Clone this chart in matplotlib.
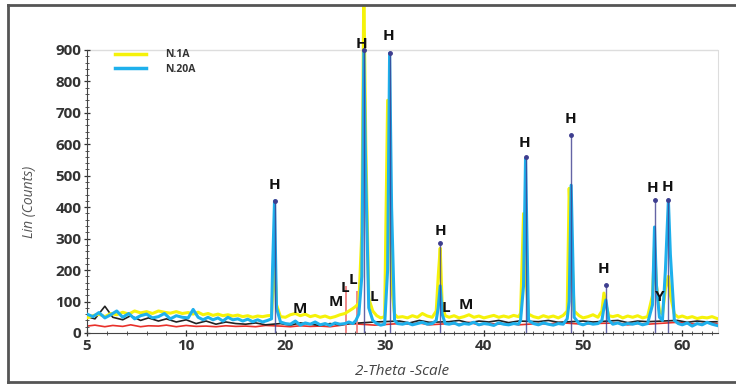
import numpy as np
import matplotlib.pyplot as plt
from matplotlib.lines import Line2D
from matplotlib.ticker import FixedLocator

plt.rcParams.update({
    "font.family": "Open Sans",
    "font.size": 10,
    "axes.linewidth": 0.8,
})

# 2-theta grid shared by the two measured patterns
two_theta = [
    5.0, 5.3, 5.6, 5.9, 6.2, 6.5, 6.8, 7.1, 7.4, 7.7, 8.0, 8.3, 8.6, 8.9, 9.2, 9.5, 9.8,
    10.2, 10.7, 11.2, 11.7, 12.2, 12.7, 13.2, 13.7, 14.2, 14.7, 15.2, 15.7, 16.2, 16.7, 17.2, 17.7, 18.2, 18.6,
    18.7, 18.9, 19.1,
    19.5, 20.0, 20.5, 21.0, 21.5, 22.0, 22.5, 23.0, 23.5, 24.0, 24.5, 25.0, 25.5, 26.0, 26.4,
    26.8, 27.1, 27.4, 27.7, 27.9, 28.1, 28.4, 28.8,
    29.2, 29.6, 30.0, 30.3, 30.5, 30.7, 31.0, 31.3,
    31.8, 32.3, 32.8, 33.3, 33.8, 34.3, 34.8, 35.2,
    35.4, 35.6, 35.8, 36.1,
    36.5, 37.0, 37.5, 38.0, 38.5, 39.0, 39.5, 40.0, 40.5, 41.0, 41.5, 42.0, 42.5, 43.0, 43.5, 43.7,
    44.0, 44.2, 44.5,
    45.0, 45.5, 46.0, 46.5, 47.0, 47.5, 48.0, 48.4,
    48.6, 48.8, 49.1,
    49.6, 50.0, 50.5, 51.0, 51.5, 51.9,
    52.1, 52.3, 52.6,
    53.0, 53.5, 54.0, 54.5, 55.0, 55.5, 56.0, 56.5, 57.0,
    57.2, 57.4, 57.7, 58.0, 58.3, 58.6, 58.8, 59.2,
    59.6, 60.0, 60.5, 61.0, 61.5, 62.0, 62.5, 63.0, 63.5,
]

n1a = [
    48, 55, 60, 52, 62, 58, 66, 60, 70, 64, 68, 62, 70, 66, 63, 68, 62,
    65, 60, 66, 58, 62, 56, 60, 55, 58, 54, 57, 52, 55, 50, 54, 52, 55, 56,
    120, 250, 90,
    52, 50, 58, 62, 55, 60, 52, 56, 50, 54, 48, 52, 58, 62, 70,
    78, 85, 95, 320, 1100, 600, 110, 70,
    55, 48, 52, 740, 420, 150, 60, 50,
    52, 48, 55, 50, 62, 54, 50, 70,
    180, 270, 90, 55,
    50, 55, 48, 52, 58, 50, 54, 48, 52, 56, 50, 54, 50, 56, 52, 62,
    380, 200, 60,
    52, 48, 55, 50, 54, 48, 56, 70,
    460, 300, 70,
    55, 48, 52, 58, 50, 70,
    127, 90, 55,
    52, 56, 48, 54, 50, 55, 48, 52, 120,
    274, 150, 70, 60, 140, 180, 120, 60,
    50, 54, 48, 52, 46, 50, 48, 52, 46,
]

n20a = [
    60, 52, 65, 48, 58, 70, 50, 62, 45, 55, 60, 48, 52, 62, 45, 55, 50,
    48, 75, 50, 42, 50, 42, 48, 38, 50, 42, 45, 38, 44, 36, 42, 35, 40, 45,
    200, 420, 80,
    35, 30, 28, 38, 25, 32, 28, 35, 26, 30, 24, 32, 28, 30, 35,
    30, 40, 60, 180, 900, 500, 80, 40,
    30, 25, 28, 200, 890, 400, 40, 30,
    28, 32, 26, 30, 34, 28, 30, 40,
    80, 150, 60, 30,
    28, 32, 25, 30, 28, 34, 26, 30, 28, 24, 32, 28, 26, 30, 28, 40,
    150, 555, 40,
    30, 26, 32, 28, 25, 30, 28, 45,
    100, 470, 50,
    30, 26, 32, 28, 30, 40,
    80, 105, 40,
    28, 32, 26, 30, 28, 32, 26, 30, 90,
    337, 150, 50, 40, 200, 423, 250, 40,
    30, 26, 32, 22, 30, 26, 34, 28, 24,
]

# background traces of the other samples
other_theta = [5.0, 5.4, 5.9, 6.3, 6.8, 7.2, 7.7, 8.1, 8.6, 9.0, 9.5, 10.0, 11.0, 12.0, 13.0,
               14.0, 15.0, 16.0, 17.0, 18.0, 19.5, 20.5, 21.5, 22.5, 23.5, 24.5, 25.5, 26.5,
               29.0, 31.5, 32.5, 33.5, 34.5, 36.5, 37.5, 38.5, 39.5, 40.5, 41.5, 42.5, 43.5,
               45.5, 46.5, 47.5, 50.0, 51.0, 53.5, 54.5, 55.5, 56.5, 59.5, 60.5, 61.5, 62.5, 63.5]
black_trace = [52, 45, 85, 50, 42, 55, 40, 48, 38, 45, 35, 42, 30, 38, 28,
               35, 30, 28, 32, 26, 30, 25, 32, 28, 24, 30, 26, 30,
               35, 38, 32, 40, 34, 36, 40, 32, 38, 35, 40, 33, 38,
               36, 40, 34, 38, 35, 40, 33, 38, 36, 40, 34, 38, 35, 36]
red_trace = [22, 25, 20, 24, 21, 26, 20, 23, 22, 25, 20, 24, 21, 22, 20,
             23, 21, 22, 20, 24, 22, 20, 23, 21, 22, 20, 24, 30,
             25, 30, 28, 32, 26, 30, 28, 34, 26, 30, 28, 32, 26,
             30, 28, 33, 28, 30, 32, 26, 30, 28, 34, 30, 28, 32, 30]

# reference pattern sticks
stick_pos = [18.9, 27.9, 30.5, 35.6, 44.2, 48.8, 52.3, 57.2, 58.6]
stick_height = [420, 900, 890, 286, 560, 630, 153, 423, 423]
red_stick_pos = [26.1, 27.2]
red_stick_height = [150, 135]

# phase labels
phase_text = ["H", "H", "H", "H", "H", "H", "H", "H", "H",
              "M", "M", "M", "L", "L", "L", "L", "Y"]
phase_x = [18.9, 27.7, 30.4, 35.6, 44.1, 48.7, 52.1, 57.0, 58.5,
           21.5, 25.1, 38.2, 26.0, 26.8, 28.9, 36.2, 57.7]
phase_y = [470, 920, 945, 325, 605, 680, 205, 460, 465,
           76, 98, 90, 143, 169, 115, 80, 115]

x_ticks = [5, 10, 20, 30, 40, 50, 60]
y_ticks = [0, 100, 200, 300, 400, 500, 600, 700, 800, 900]


# the instrument axis squeezes 10 degrees into 5..10
def fwd(x):
    x = np.asarray(x, dtype=float)
    return np.where(x < 10, 2 * x - 10, x)


def inv(v):
    v = np.asarray(v, dtype=float)
    return np.where(v < 10, (v + 10) / 2, v)


fig = plt.figure(figsize=(7.36, 3.85), dpi=100)
ax = fig.add_axes([87 / 736, 1 - 333 / 385, (718 - 87) / 736, (333 - 5) / 385])
ax.set_xscale("function", functions=(fwd, inv))

navy = "#3d3d8f"
ax.plot(other_theta, red_trace, color="#e8302a", lw=1.2, zorder=1)
ax.plot(other_theta, black_trace, color="#222222", lw=1.2, zorder=2)
ax.plot(two_theta, n1a, color="#f5f20a", lw=2.2, zorder=3, label="N.1A")
ax.plot(two_theta, n20a, color="#1eb0ec", lw=2.2, zorder=4, label="N.20A")
ax.vlines(red_stick_pos, 0, red_stick_height, color="#f08080", lw=1.3, zorder=2)
ax.vlines(stick_pos, 0, stick_height, color=navy, lw=1.0, zorder=5, alpha=0.8)
ax.plot(stick_pos, stick_height, "o", color=navy, ms=2.5, zorder=6)

for t, px, py in zip(phase_text, phase_x, phase_y):
    ax.text(px, py, t, ha="center", va="center", fontsize=11,
            fontweight="bold", color="#111111", zorder=7)

ax.set_xlim(5, 63.6)
ax.set_ylim(0, 1043)
ax.xaxis.set_major_locator(FixedLocator(x_ticks))
ax.xaxis.set_minor_locator(FixedLocator(np.arange(6, 64, 1)))
ax.yaxis.set_major_locator(FixedLocator(y_ticks))
ax.yaxis.set_minor_locator(FixedLocator(np.arange(0, 901, 20)))
ax.set_xticklabels([str(t) for t in x_ticks])
ax.set_yticklabels([str(t) for t in y_ticks])
ax.tick_params(axis="both", which="major", length=4, width=0.9, labelsize=11,
               colors="#333333", pad=2, direction="inout")
ax.tick_params(axis="both", which="minor", length=3, width=0.7, colors="#555555",
               direction="inout")
for lab in ax.get_xticklabels() + ax.get_yticklabels():
    lab.set_fontweight("bold")

ax.spines["top"].set_visible(False)
ax.spines["left"].set_bounds(0, 900)
ax.spines["right"].set_bounds(0, 900)
ax.spines["right"].set_color("#dddddd")
ax.spines["left"].set_color("#444444")
ax.spines["bottom"].set_color("#444444")
ax.tick_params(axis="y", which="both", right=False)
ax.axhline(900, color="#dddddd", lw=1.0, zorder=0)

ax.set_xlabel("2-Theta -Scale", fontstyle="italic", fontsize=11, color="#444444", labelpad=8)
ax.xaxis.set_label_coords(0.5, -0.095)
ax.set_ylabel("Lin (Counts)", fontstyle="italic", fontsize=10, color="#555555")
ax.yaxis.set_label_coords(-0.08, 0.4)

handles = [Line2D([], [], color="#f5f20a", lw=2.5), Line2D([], [], color="#1eb0ec", lw=2.5)]
leg = ax.legend(handles, ["N.1A", "N.20A"], loc="upper left",
                bbox_to_anchor=(110 / 736, 1 - 44 / 385), bbox_transform=fig.transFigure,
                frameon=False, fontsize=7.5, handlelength=3.0, handletextpad=1.8,
                labelspacing=0.35, borderpad=0)
for txt in leg.get_texts():
    txt.set_fontweight("bold")
    txt.set_color("#333333")

# outer frame of the picture
fig.add_artist(Line2D([8 / 736, 8 / 736], [3 / 385, 1 - 5 / 385], color="#555555", lw=2,
                      transform=fig.transFigure))
fig.add_artist(Line2D([8 / 736, 1], [1 - 5 / 385, 1 - 5 / 385], color="#555555", lw=2,
                      transform=fig.transFigure))
fig.add_artist(Line2D([8 / 736, 1], [3 / 385, 3 / 385], color="#555555", lw=2,
                      transform=fig.transFigure))

fig.savefig("out.png", dpi=100)
